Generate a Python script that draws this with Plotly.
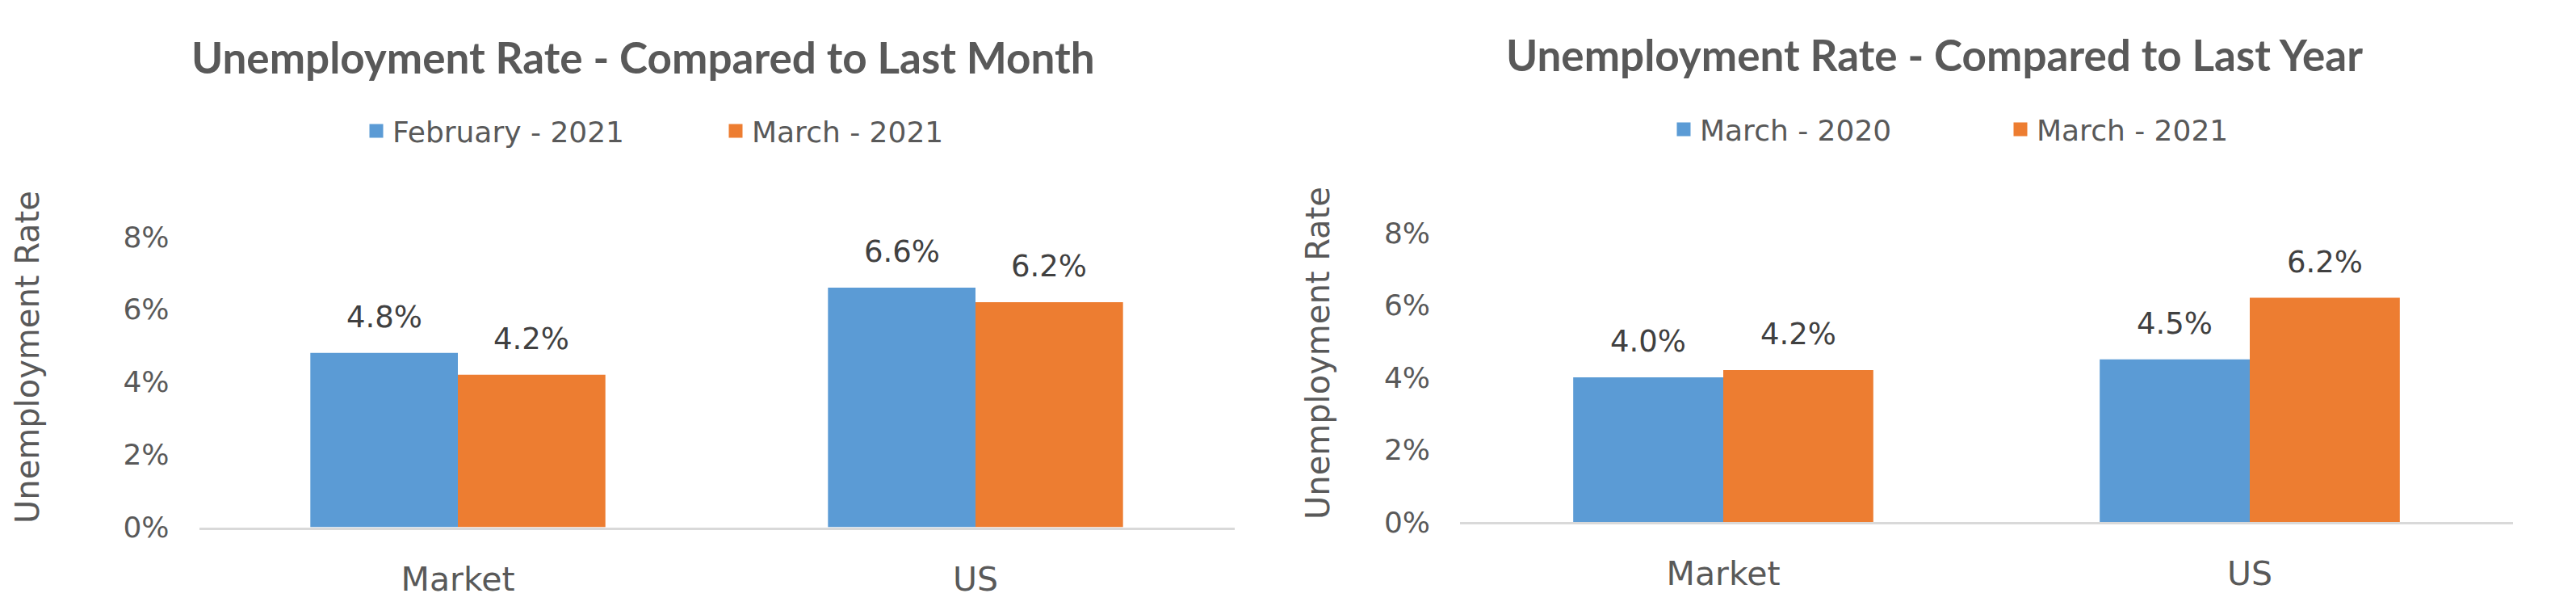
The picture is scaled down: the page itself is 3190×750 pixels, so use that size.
import plotly.graph_objects as go
from plotly.subplots import make_subplots

# data
categories = ["Market", "US"]

month_title = "Unemployment Rate - Compared to Last Month"
month_prev_name = "February - 2021"
month_curr_name = "March - 2021"
month_prev = [4.8, 6.6]
month_curr = [4.2, 6.2]

year_title = "Unemployment Rate - Compared to Last Year"
year_prev_name = "March - 2020"
year_curr_name = "March - 2021"
year_prev = [4.0, 4.5]
year_curr = [4.2, 6.2]

y_ticks = [0, 2, 4, 6, 8]
y_tick_text = ["0%", "2%", "4%", "6%", "8%"]

BLUE = "#5B9BD5"
ORANGE = "#ED7D31"
GREY = "#595959"
LABEL = "#404040"
FONT = "DejaVu Sans"

W, H = 3190, 750
OFF = 8  # page body margin of the html page
BARGAP = 0.43


def px(x):
    return (x - OFF) / W


def py(y):
    return 1 - (y - OFF) / H


# plot areas in pixels (left, right, top of 8%, bottom at 0%)
areas = [(246.5, 1528.5, 293, 652.5), (1808, 3112, 288, 646)]

fig = make_subplots(rows=1, cols=2)

series = [
    (1, month_prev_name, month_prev, month_curr_name, month_curr, "legend"),
    (2, year_prev_name, year_prev, year_curr_name, year_curr, "legend2"),
]
for col, n1, v1, n2, v2, leg in series:
    for name, vals, color, grp in ((n1, v1, BLUE, "a"), (n2, v2, ORANGE, "b")):
        fig.add_trace(go.Bar(x=categories, y=vals, name=name, marker_color=color,
                             marker_line_width=0, offsetgroup=grp, showlegend=False,
                             hoverinfo="skip"), row=1, col=col)
        # legend-only entry with a bigger swatch
        fig.add_trace(go.Bar(x=categories, y=[None] * len(categories), name=name,
                             marker=dict(color=color, line=dict(color=color, width=8)),
                             offsetgroup=grp, legend=leg, hoverinfo="skip"), row=1, col=col)

# data labels above the bars
annotations = []
for (col, n1, v1, n2, v2, leg), (x0, x1, yt, yb) in zip(series, areas):
    cat_px = (x1 - x0) / len(categories)
    shift = cat_px * (1 - BARGAP) / 4
    xref = "x" if col == 1 else "x2"
    yref = "y" if col == 1 else "y2"
    for vals, sgn in ((v1, -1), (v2, 1)):
        for c, v in zip(categories, vals):
            annotations.append(dict(x=c, y=v, xref=xref, yref=yref, text=f"{v:.1f}%",
                                    showarrow=False, xshift=sgn * shift, yshift=21,
                                    yanchor="bottom",
                                    font=dict(family=FONT, size=37, color=LABEL)))

# chart titles
for xc, yc, t in ((796, 70, month_title), (2395, 68, year_title)):
    annotations.append(dict(x=px(xc), y=py(yc), xref="paper", yref="paper", text=f"<b>{t}</b>",
                            showarrow=False, xanchor="center", yanchor="middle",
                            font=dict(family="Lato", size=53, color=GREY)))

# y axis titles
for xc, yc in ((34, 442), (1632, 437)):
    annotations.append(dict(x=px(xc), y=py(yc), xref="paper", yref="paper",
                            text="Unemployment Rate", textangle=-90, showarrow=False,
                            xanchor="center", yanchor="middle",
                            font=dict(family=FONT, size=40, color=GREY)))

fig.update_layout(
    template="none",
    width=W, height=H,
    margin=dict(l=0, r=0, t=0, b=0, autoexpand=False),
    paper_bgcolor="white", plot_bgcolor="white",
    barmode="group", bargap=BARGAP, bargroupgap=0,
    annotations=annotations,
    legend=dict(orientation="h", x=px(446), y=py(162), xanchor="left", yanchor="middle",
                entrywidth=400, font=dict(family=FONT, size=36, color=GREY)),
    legend2=dict(orientation="h", x=px(2065), y=py(160), xanchor="left", yanchor="middle",
                 entrywidth=372, font=dict(family=FONT, size=36, color=GREY)),
)

for i, (x0, x1, yt, yb) in enumerate(areas, start=1):
    xa = "xaxis" if i == 1 else f"xaxis{i}"
    ya = "yaxis" if i == 1 else f"yaxis{i}"
    fig.layout[xa].update(domain=[px(x0), px(x1)], showline=True, linecolor="#D9D9D9",
                          linewidth=3, showgrid=False, zeroline=False, ticks="",
                          ticklabelstandoff=26, automargin=False,
                          tickfont=dict(family=FONT, size=41, color=GREY), fixedrange=True)
    fig.layout[ya].update(domain=[py(yb), py(yt)], range=[0, 8], tickmode="array",
                          tickvals=y_ticks, ticktext=y_tick_text,
                          showgrid=False, zeroline=False, showline=False,
                          ticks="", ticklabelstandoff=36, automargin=False,
                          tickfont=dict(family=FONT, size=36, color=GREY), fixedrange=True)

fig.write_html("out.html")
